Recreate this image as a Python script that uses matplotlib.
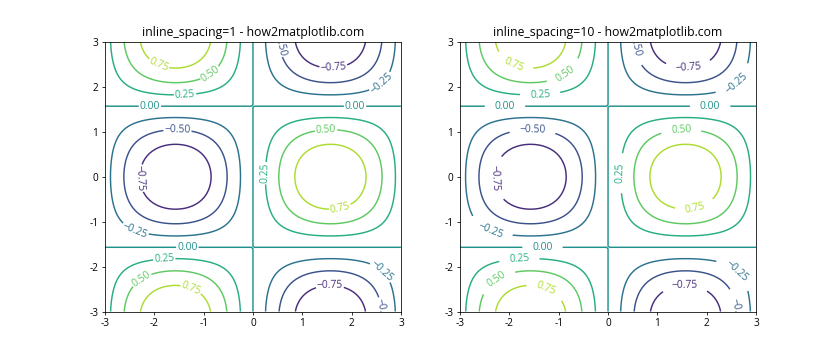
import numpy as np
import matplotlib
matplotlib.use("Agg")
import matplotlib.pyplot as plt

plt.rcParams['font.family'] = ['Open Sans', 'DejaVu Sans']
plt.rcParams['axes.unicode_minus'] = False

x_range = [-3, 3]
y_range = [-3, 3]
n_points = 100
spacings = [1, 10]
titles = ["inline_spacing=1 - how2matplotlib.com", "inline_spacing=10 - how2matplotlib.com"]

# label anchor points (data coords)
label_x = [-1.90, -0.91, -1.38, 0.53, 1.63, 2.61, -2.09, 2.07, -1.53, 1.48, -2.24,
           0.22, -2.39, 1.76, -1.33, -1.80, -2.27, -1.24, 1.56, 2.64, 2.61]
label_y = [2.53, 2.36, 1.90, 2.97, 2.45, 2.08, 1.571, 1.571, 1.06, 1.07, -0.03,
           0.08, -1.19, -0.66, -1.571, -1.81, -2.27, -2.45, -2.40, -2.07, -2.99]

x = np.linspace(x_range[0], x_range[1], n_points)
y = np.linspace(y_range[0], y_range[1], n_points)
X, Y = np.meshgrid(x, y)
Z = np.sin(X) * np.cos(Y)


def fmt(v):
    s = f"{v:.2f}"
    return s.replace("-", "\u2212")


fig, axes = plt.subplots(1, 2, figsize=(12, 5), dpi=70)
for ax, sp, t in zip(axes, spacings, titles):
    cs = ax.contour(X, Y, Z)
    ax.clabel(cs, inline=True, inline_spacing=sp, fontsize=10.5, fmt=fmt,
              manual=list(zip(label_x, label_y)))
    ax.set_title(t, fontsize=12.6)
    ax.tick_params(labelsize=10.3)

fig.savefig("out.png", dpi=70)
